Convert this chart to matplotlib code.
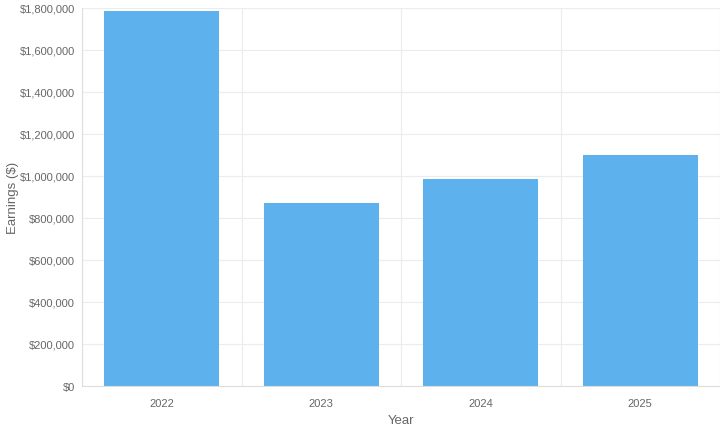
import matplotlib
matplotlib.use('Agg')
import matplotlib.pyplot as plt
from matplotlib.ticker import FuncFormatter, MultipleLocator, FixedLocator
import numpy as np

years = ['2022', '2023', '2024', '2025']
earnings = [1785000, 870000, 985000, 1100000]

bar_color = '#5DB1EC'
grid_color = '#ececec'
text_color = '#666666'

plt.rcParams['font.family'] = ['Liberation Sans', 'DejaVu Sans']

fig = plt.figure(figsize=(7.2, 4.31), dpi=100)
ax = fig.add_axes([82 / 720, 1 - 387 / 431, 638 / 720, (387 - 8.7) / 431])

x = np.arange(len(years))
ax.bar(x, earnings, width=0.72, color=bar_color, zorder=2)

ax.set_xlim(-0.5, len(years) - 0.5)
ax.set_ylim(0, 1800000)
ax.yaxis.set_major_locator(MultipleLocator(200000))
ax.yaxis.set_major_formatter(FuncFormatter(lambda v, p: '${:,.0f}'.format(v)))
ax.set_xticks(x)
ax.set_xticklabels(years)
ax.xaxis.set_minor_locator(FixedLocator(np.arange(-0.5, len(years), 1.0)))

ax.grid(axis='y', which='major', color=grid_color, linewidth=0.8, zorder=0)
ax.grid(axis='x', which='minor', color=grid_color, linewidth=0.8, zorder=0)
ax.tick_params(axis='both', which='both', length=0, labelsize=8, labelcolor=text_color)
ax.tick_params(axis='y', pad=5)
ax.tick_params(axis='x', pad=9)

for side in ['top', 'right']:
    ax.spines[side].set_visible(False)
for side in ['left', 'bottom']:
    ax.spines[side].set_color('#dddddd')
    ax.spines[side].set_linewidth(0.8)

ax.set_xlabel('Year', fontsize=9.5, color=text_color, labelpad=4)
ax.set_ylabel('Earnings ($)', fontsize=9.5, color=text_color)
ax.yaxis.set_label_coords((19 - 82) / 638, 0.5)

fig.savefig('out.png', dpi=100)
